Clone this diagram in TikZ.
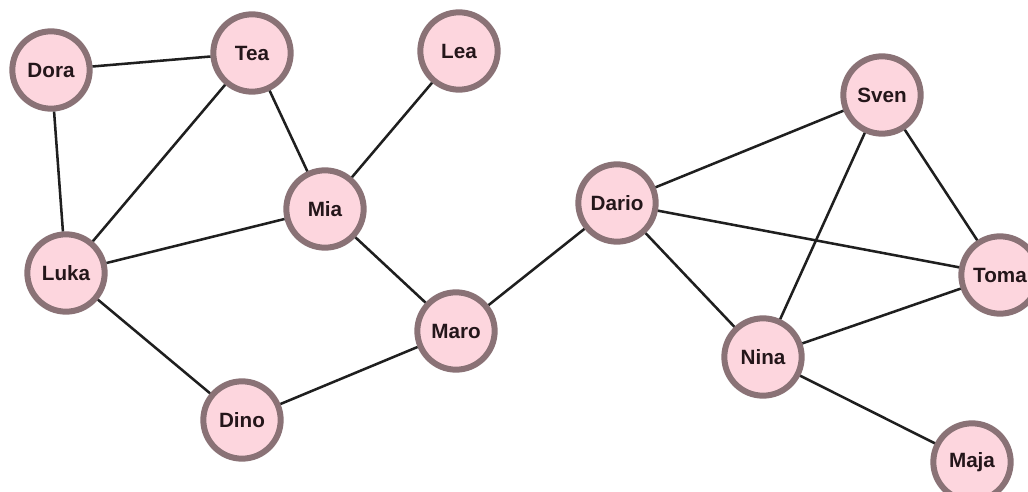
\documentclass[tikz,border=0pt]{standalone}
\usepackage{fontspec}
\setmainfont{Liberation Sans}
\usepackage{tikz}

\definecolor{personfill}{HTML}{FDD6DE}
\definecolor{personrim}{HTML}{8A7276}
\definecolor{personname}{HTML}{24161A}

\tikzset{
	person/.style={circle, draw=personrim, fill=personfill, line width=4.5pt,
		minimum size=58pt, inner sep=0pt, text=personname,
		font=\fontsize{15.5}{18}\selectfont\bfseries},
	link/.style={line width=1.9pt, color=black!88}
}

\begin{document}
\begin{tikzpicture}[x=0.75pt, y=-0.75pt]
		%%%%% START %%%%%
		
		\useasboundingbox (0, 0) rectangle (1028, 492);
		
		\node[person] (dora) at (51, 70) {Dora};
		\node[person] (tea) at (252, 53) {Tea};
		\node[person] (lea) at (459, 51) {Lea};
		\node[person] (mia) at (325, 209) {Mia};
		\node[person] (luka) at (66, 273) {Luka};
		\node[person] (maro) at (456, 331) {Maro};
		\node[person] (dino) at (242, 420) {Dino};
		
		\node[person] (dario) at (617, 203) {Dario};
		\node[person] (sven) at (882, 95) {Sven};
		\node[person] (toma) at (1000, 275) {Toma};
		\node[person] (nina) at (763, 357) {Nina};
		\node[person] (maja) at (972, 462) {Maja};
		
		\draw[link] (dora) -- (tea);
		\draw[link] (dora) -- (luka);
		\draw[link] (tea) -- (luka);
		\draw[link] (tea) -- (mia);
		\draw[link] (lea) -- (mia);
		\draw[link] (mia) -- (luka);
		\draw[link] (mia) -- (maro);
		\draw[link] (luka) -- (dino);
		\draw[link] (dino) -- (maro);
		\draw[link] (maro) -- (dario);
		
		\draw[link] (dario) -- (sven);
		\draw[link] (dario) -- (toma);
		\draw[link] (dario) -- (nina);
		\draw[link] (sven) -- (nina);
		\draw[link] (sven) -- (toma);
		\draw[link] (nina) -- (toma);
		\draw[link] (nina) -- (maja);
		
		%%%%% END %%%%%
\end{tikzpicture}
\end{document}
